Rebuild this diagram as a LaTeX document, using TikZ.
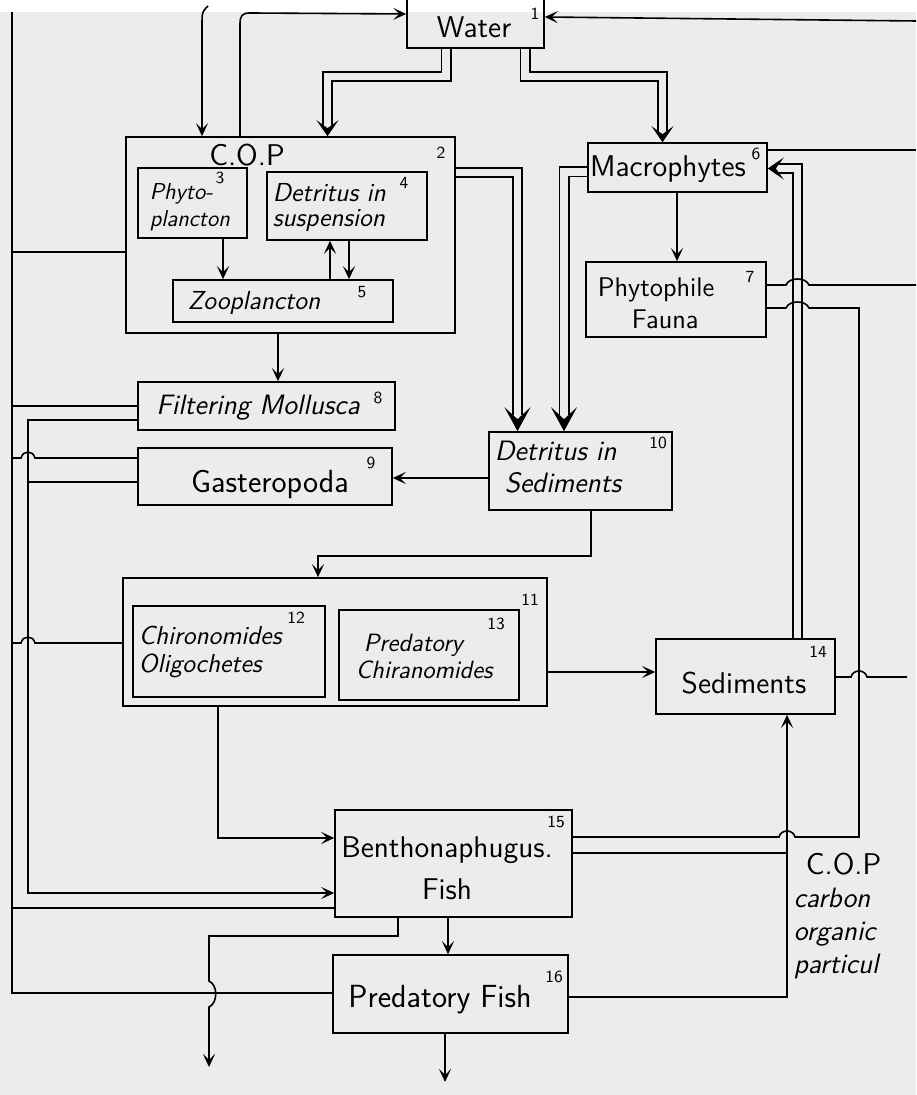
\documentclass[tikz,border=0pt]{standalone}
\usepackage{fontspec}
\usepackage{tikz}
\usetikzlibrary{%
  arrows.meta,
  fit,
  positioning,
}
\definecolor{paper}{RGB}{236,236,236}

\begin{document}
\begin{tikzpicture}[
    x = 0.5pt, y = -0.5pt,
    line width = 0.8pt,
    box/.style = {draw, rectangle, inner sep = 0pt},
    utxt/.style 2 args = {inner sep = 0pt, align = left,
      font = \sffamily\fontsize{#1}{#2}\selectfont},
    stxt/.style 2 args = {inner sep = 0pt, align = left,
      font = \sffamily\slshape\fontsize{#1}{#2}\selectfont},
    num/.style = {inner sep = 0pt, font = \sffamily\fontsize{8.5}{10}\selectfont},
    arr/.style = {-{Stealth[length = 6.5pt, width = 6pt, inset = 3pt]}},
    dbl/.style = {double = paper, double distance = 3.9pt, line join = miter},
    dtip/.style = {-{Stealth[length = 8pt, width = 11pt, inset = 4pt]}},
    btip/.style = {-{Stealth[length = 12pt, width = 13pt, inset = 6pt]}},
  ]
  \useasboundingbox (0,0) rectangle (916,1095);
  \clip (0,0) rectangle (916,1095);
  \fill[paper] (0,12) rectangle (916,1095);

  \node[box, fit = {(407,-20) (544,48)}] (water) {};
  \node[box, fit = {(126,137) (455,333)}] (cop) {};
  \node[box, fit = {(138,168) (247,238)}] (phyto) {};
  \node[box, fit = {(267,172) (427,240)}] (detsus) {};
  \node[box, fit = {(173,280) (393,322)}] (zoo) {};
  \node[box, fit = {(588,143) (767,192)}] (macro) {};
  \node[box, fit = {(586,262) (766,337)}] (fauna) {};
  \node[box, fit = {(138,382) (395,430)}] (moll) {};
  \node[box, fit = {(138,448) (392,505)}] (gast) {};
  \node[box, fit = {(489,432) (672,510)}] (detsed) {};
  \node[box, fit = {(123,578) (547,706)}] (larvae) {};
  \node[box, fit = {(133,606) (325,697)}] (chiro) {};
  \node[box, fit = {(339,610) (519,700)}] (predch) {};
  \node[box, fit = {(656,639) (835,714)}] (sed) {};
  \node[box, fit = {(335,810) (572,917)}] (bfish) {};
  \node[box, fit = {(333,955) (568,1033)}] (pfish) {};

  \node[utxt = {15}{18}] (waterlbl) at (474,27) {Water};
  \node[utxt = {15}{18}] (coplbl) at (247,155) {C.O.P};
  \node[stxt = {11.5}{13.5}, anchor = west] (phytolbl) at (149,207) {Phyto-\\plancton};
  \node[stxt = {13}{12.5}, anchor = west] (detsuslbl) at (272,208) {Detritus in\\suspension};
  \node[stxt = {13}{15}] (zoolbl) at (254,303) {Zooplancton};
  \node[utxt = {15}{18}] (macrolbl) at (668,169) {Macrophytes};
  \node[utxt = {13.5}{16}, anchor = west] (faunalbl) at (597,303) {Phytophile\\\hspace*{17pt}Fauna};
  \node[stxt = {14}{16}] (molllbl) at (258,408) {Filtering Mollusca};
  \node[utxt = {16}{18}] (gastlbl) at (270,484) {Gasteropoda};
  \node[stxt = {14}{16}, anchor = west] (detsedlbl) at (494,467) {Detritus in\\\hspace*{5pt}Sediments};
  \node[stxt = {13}{14}, anchor = west] (chirolbl) at (138,652) {Chironomides\\Oligochetes};
  \node[stxt = {12.5}{13.5}, anchor = west] (predchlbl) at (355,656) {\hspace*{4pt}Predatory\\Chiranomides};
  \node[utxt = {15}{18}] (sedlbl) at (744,683) {Sediments};
  \node[utxt = {15}{21}, align = center] (bfishlbl) at (447,868) {Benthonaphugus.\\Fish};
  \node[utxt = {16}{18}] (pfishlbl) at (440,1000) {Predatory Fish};
  \node[stxt = {14}{16.5}, anchor = north west] (copnote) at (793,852)
    {\hspace*{6pt}{\upshape\fontsize{15}{18}\selectfont C.O.P}\\carbon\\organic\\particul};

  \node[num] (n1) at (535,14) {1};
  \node[num] (n2) at (441,153) {2};
  \node[num] (n3) at (220,178) {3};
  \node[num] (n4) at (404,183) {4};
  \node[num] (n5) at (362,292) {5};
  \node[num] (n6) at (756,154) {6};
  \node[num] (n7) at (750,277) {7};
  \node[num] (n8) at (378,398) {8};
  \node[num] (n9) at (371,463) {9};
  \node[num] (n10) at (658,443) {10};
  \node[num] (n11) at (530,600) {11};
  \node[num] (n12) at (296,618) {12};
  \node[num] (n13) at (496,624) {13};
  \node[num] (n14) at (818,652) {14};
  \node[num] (n15) at (556,822) {15};
  \node[num] (n16) at (554,977) {16};

  \coordinate (topA) at (208,6);
  \coordinate (topL) at (12,12);
  \coordinate (eWater) at (916,21);
  \coordinate (eMacro) at (916,150);
  \coordinate (eFauna) at (916,285);
  \coordinate (eSed) at (907,677);
  \coordinate (outB) at (209,1067);
  \coordinate (outP) at (445,1082);

  % double flows
  \draw[dbl, shorten >= 5.5pt] (446,0 |- water.south) -- (446,76.5) -- (327.5,76.5) -- (327.5,0 |- cop.north);
  \draw[dtip] (327.5,129) -- (327.5,0 |- cop.north);
  \draw[dbl, shorten >= 5.5pt] (525,0 |- water.south) -- (525,76.5) -- (662.5,76.5) -- (662.5,0 |- macro.north);
  \draw[dtip] (662.5,135) -- (662.5,0 |- macro.north);
  \draw[dbl, shorten >= 8pt] (cop.east |- 0,172.5) -- (517.5,172.5) -- (517.5,0 |- detsed.north);
  \draw[btip] (517.5,420) -- (517.5,0 |- detsed.north);
  \draw[dbl, shorten >= 8pt] (macro.west |- 0,172) -- (564,172) -- (564,0 |- detsed.north);
  \draw[btip] (564,420) -- (564,0 |- detsed.north);
  \draw[dbl, shorten >= 5.5pt] (797.5,0 |- sed.north) -- (797.5,168.5) -- (macro.east |- 0,168.5);
  \draw[dtip] (775,168.5) -- (macro.east |- 0,168.5);

  \draw[arr] (topA) .. controls (202,12) .. (202,26) -- (202,0 |- cop.north);
  \draw[arr] (240,0 |- cop.north) -- (240,24) .. controls (240,16) and (242,13) .. (250,13) -- (water.west);
  \draw[arr] (eWater) -- (water.east |- 0,17);
  \draw[arr] (278,0 |- cop.south) -- (278,0 |- moll.north);
  \draw[arr] (223,0 |- phyto.south) -- (223,0 |- zoo.north);
  \draw[arr] (349,0 |- detsus.south) -- (349,0 |- zoo.north);
  \draw[arr] (330,0 |- zoo.north) -- (330,0 |- detsus.south);
  \draw[arr] (677,0 |- macro.south) -- (677,0 |- fauna.north);
  \draw[arr] (detsed.west |- 0,478) -- (gast.east |- 0,478);
  \draw[arr] (591,0 |- detsed.south) -- (591,556) -- (318,556) -- (318,0 |- larvae.north);
  \draw[arr] (larvae.east |- 0,672) -- (sed.west |- 0,672);
  \draw[arr] (218,0 |- larvae.south) -- (218,838) -- (bfish.west |- 0,838);
  \draw[arr] (448,0 |- bfish.south) -- (448,0 |- pfish.north);
  \draw[arr] (445,0 |- pfish.south) -- (outP);
  \draw[arr] (398,0 |- bfish.south) -- (398,936) -- (209,936) -- (209,981)
    .. controls (218,985) and (218,1003) .. (209,1007) -- (outB);

  \draw (macro.east |- 0,150) -- (eMacro);
  \draw (fauna.east |- 0,285) -- (786,285) .. controls (789,277) and (806,277) .. (809,285) -- (eFauna);
  \draw (fauna.east |- 0,308) -- (786,308) .. controls (789,300) and (806,300) .. (809,308)
    -- (859,308) -- (859,837) -- (795,837) .. controls (793,829) and (781,829) .. (779,837)
    -- (bfish.east |- 0,837);
  \draw (sed.east |- 0,677) -- (851,677) .. controls (853,669) and (865,669) .. (867,677) -- (eSed);
  \draw[arr] (pfish.east |- 0,997) -- (787,997) -- (787,0 |- sed.south);
  \draw (bfish.east |- 0,853) -- (787,853);

  \draw (pfish.west |- 0,993) -- (12,993) -- (topL);
  \draw (cop.west |- 0,252) -- (12,252);
  \draw (moll.west |- 0,406) -- (12,406);
  \draw (gast.west |- 0,458) -- (35,458) .. controls (33,450) and (23,450) .. (21,458) -- (12,458);
  \draw (larvae.west |- 0,643) -- (35,643) .. controls (33,635) and (23,635) .. (21,643) -- (12,643);
  \draw (bfish.west |- 0,908) -- (12,908);
  \draw[arr] (moll.west |- 0,420) -- (28,420) -- (28,893) -- (bfish.west |- 0,893);
  \draw (gast.west |- 0,482) -- (28,482);
\end{tikzpicture}
\end{document}
